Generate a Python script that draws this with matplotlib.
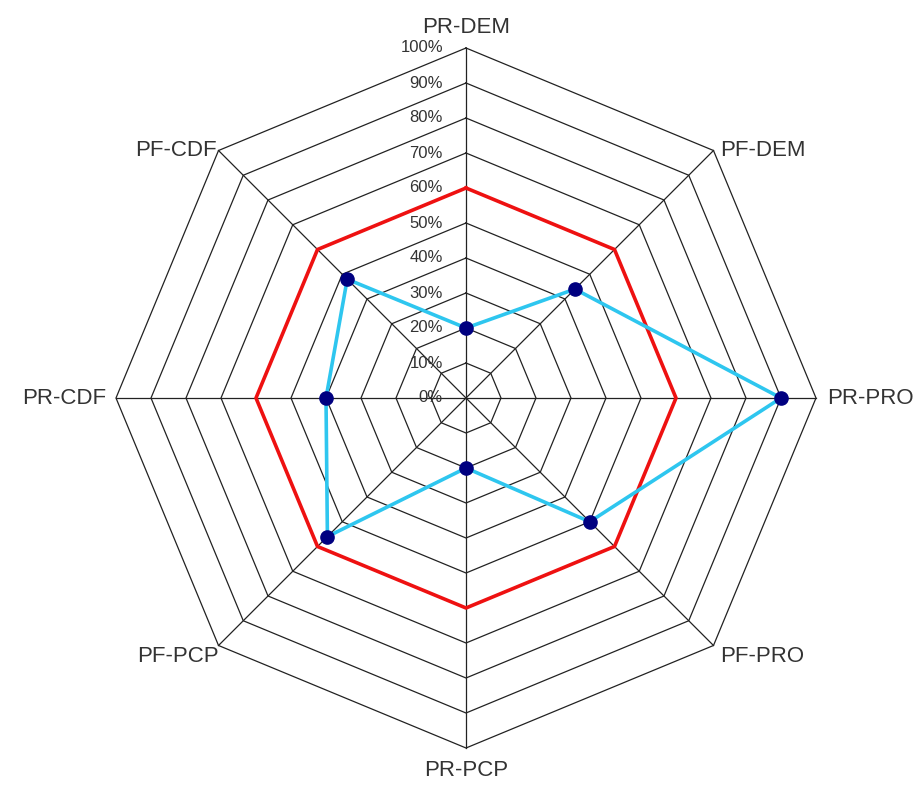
import numpy as np
import matplotlib.pyplot as plt

plt.rcParams['font.family'] = ['Liberation Sans', 'DejaVu Sans']

# axes, clockwise from the top
categories = ['PR-DEM', 'PF-DEM', 'PR-PRO', 'PF-PRO',
              'PR-PCP', 'PF-PCP', 'PR-CDF', 'PF-CDF']
target = [60, 60, 60, 60, 60, 60, 60, 60]
actual = [20, 44, 90, 50, 20, 56, 40, 48]
levels = [0, 10, 20, 30, 40, 50, 60, 70, 80, 90, 100]
level_labels = ['%d%%' % v for v in levels]

n = len(categories)
ang = np.pi / 2 - 2 * np.pi * np.arange(n) / n
ux, uy = np.cos(ang), np.sin(ang)


def poly(vals):
    vals = np.asarray(vals, dtype=float)
    x = vals * ux
    y = vals * uy
    return np.append(x, x[0]), np.append(y, y[0])


fig = plt.figure(figsize=(9.22, 7.89), dpi=100)
ax = fig.add_axes([0, 0, 1, 1])
# 3.5 px per percent, centre at (466, 398) px
s = 3.5
ax.set_xlim(-466 / s, (922 - 466) / s)
ax.set_ylim(-(789 - 398) / s, 398 / s)
ax.set_aspect('equal')
ax.axis('off')

# octagon grid
for v in levels[1:]:
    x, y = poly([v] * n)
    ax.plot(x, y, color='#222222', lw=0.9, zorder=1)
for i in range(n):
    ax.plot([0, 100 * ux[i]], [0, 100 * uy[i]], color='#222222', lw=0.9, zorder=1)

x, y = poly(target)
ax.plot(x, y, color='#ee1111', lw=2.6, zorder=2)
x, y = poly(actual)
ax.plot(x, y, color='#2ec6ef', lw=2.6, zorder=3)
ax.plot(x[:-1], y[:-1], 'o', color='#000080', ms=9.5, zorder=4)

# level labels along the top axis
for v, lab in zip(levels, level_labels):
    ax.text(-23 / s, v, lab, ha='right', va='center', fontsize=12, color='#333333')

# category labels
offs = {
    'PR-DEM': ((0, 7), 'center', 'bottom'),
    'PF-DEM': ((5, 0), 'left', 'center'),
    'PR-PRO': ((8, 0), 'left', 'center'),
    'PF-PRO': ((5, -8), 'left', 'center'),
    'PR-PCP': ((0, -9), 'center', 'top'),
    'PF-PCP': ((0, -8), 'right', 'center'),
    'PR-CDF': ((-7, 0), 'right', 'center'),
    'PF-CDF': ((-1, 0), 'right', 'center'),
}
for i, c in enumerate(categories):
    (dx, dy), ha, va = offs[c]
    ax.annotate(c, (100 * ux[i], 100 * uy[i]), xytext=(dx, dy),
                textcoords='offset points', ha=ha, va=va,
                fontsize=16, color='#333333')

fig.savefig('out.png', dpi=100, facecolor='white')
